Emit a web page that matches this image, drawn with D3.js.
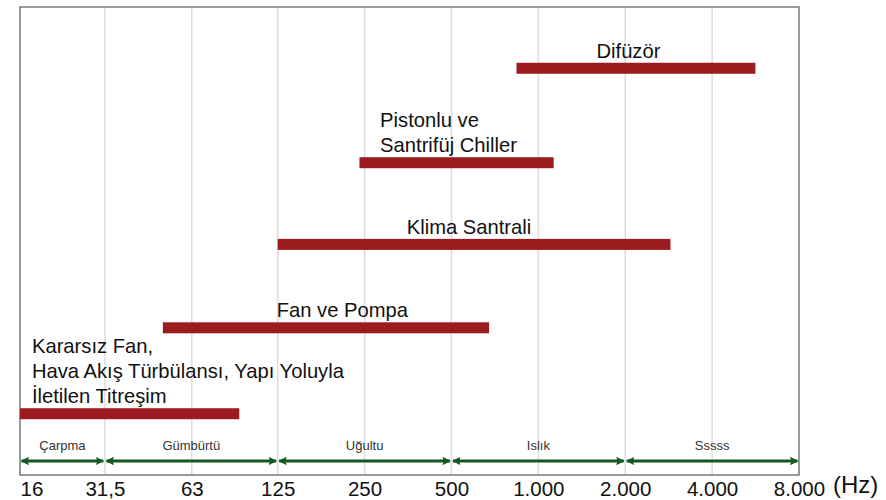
<!DOCTYPE html>
<html>
<head>
<meta charset="utf-8">
<script src="https://cdn.jsdelivr.net/npm/d3@7"></script>
<style>
  html, body { margin: 0; padding: 0; background: #fff; }
  svg { display: block; font-family: "Liberation Sans", Arial, sans-serif; }
</style>
</head>
<body>
<svg id="chart" width="886" height="500"></svg>
<script>
// octave band tick values and their labels
const ticks = [16, 31.5, 63, 125, 250, 500, 1000, 2000, 4000, 8000];
const tickLabels = ["16", "31,5", "63", "125", "250", "500", "1.000", "2.000", "4.000", "8.000"];

// noise sources: frequency range (Hz) and row level
const sources = ["Kararsız Fan", "Fan ve Pompa", "Klima Santrali", "Pistonlu ve Santrifüj Chiller", "Difüzör"];
const lowHz  = [16, 50, 125, 240, 840];
const highHz = [92, 675, 2870, 1130, 5650];
const levels = [0.72, 1.73, 2.71, 3.67, 4.78];

// label text lines and where the text starts (Hz)
const labelLines = [
  ["Kararsız Fan,", "Hava Akış Türbülansı, Yapı Yoluyla", "İletilen Titreşim"],
  ["Fan ve Pompa"],
  ["Klima Santrali"],
  ["Pistonlu ve", "Santrifüj Chiller"],
  ["Difüzör"]
];
const labelHz = [17.6, 124, 350, 283, 1590];

// sound character bands along the bottom
const bandNames = ["Çarpma", "Gümbürtü", "Uğultu", "Islık", "Sssss"];
const bandFrom  = [16, 31.5, 125, 500, 2000];
const bandTo    = [31.5, 125, 500, 2000, 8000];

const svg = d3.select("#chart");
const plotL = 20, plotR = 799, plotT = 7, plotB = 475;

const x = d3.scaleLog().base(2).domain([16, 8000]).range([plotL, plotR]);
const y = d3.scaleLinear().domain([0, 5.5]).range([plotB, plotT]);

// vertical grid
svg.append("g")
  .selectAll("line")
  .data(ticks.slice(1, -1))
  .join("line")
    .attr("x1", d => x(d)).attr("x2", d => x(d))
    .attr("y1", plotT).attr("y2", plotB)
    .attr("stroke", "#dcdcdc")
    .attr("stroke-width", 1.5);

// frame
svg.append("rect")
  .attr("x", plotL).attr("y", plotT)
  .attr("width", plotR - plotL).attr("height", plotB - plotT)
  .attr("fill", "none")
  .attr("stroke", "#7a7a7a")
  .attr("stroke-width", 1.5);

// bottom axis labels
const axis = d3.axisBottom(x)
  .tickValues(ticks)
  .tickFormat((d, i) => tickLabels[i])
  .tickSize(0)
  .tickPadding(0);

const axisG = svg.append("g")
  .attr("transform", `translate(0,${plotB})`)
  .call(axis);
axisG.select(".domain").remove();
axisG.selectAll("text")
  .attr("y", 20.5)
  .attr("dy", 0)
  .attr("font-size", 20.5)
  .attr("font-family", "Liberation Sans, Arial, sans-serif")
  .attr("fill", "#111")
  .filter((d, i) => i === 0)
  .attr("text-anchor", "start");

svg.append("text")
  .attr("x", 833)
  .attr("y", 493)
  .attr("font-size", 24)
  .attr("fill", "#111")
  .text("(Hz)");

// bars
const barH = 11;
svg.append("g")
  .selectAll("rect")
  .data(sources)
  .join("rect")
    .attr("x", (d, i) => x(lowHz[i]))
    .attr("width", (d, i) => x(highHz[i]) - x(lowHz[i]))
    .attr("y", (d, i) => y(levels[i]) - barH / 2)
    .attr("height", barH)
    .attr("fill", "#9b1b1f");

// bar labels
const lineH = 25;
sources.forEach((s, i) => {
  const lines = labelLines[i];
  const base = y(levels[i]) - barH / 2 - 5;
  const t = svg.append("text")
    .attr("font-size", 20.2)
    .attr("fill", "#111");
  lines.forEach((ln, j) => {
    t.append("tspan")
      .attr("x", x(labelHz[i]))
      .attr("y", base - (lines.length - 1 - j) * lineH)
      .text(ln);
  });
});

// green double arrows
const green = "#14581f";
const defs = svg.append("defs");
defs.append("marker")
  .attr("id", "head")
  .attr("viewBox", "0 0 10 10")
  .attr("refX", 9).attr("refY", 5)
  .attr("markerWidth", 2.6).attr("markerHeight", 3.4)
  .attr("markerUnits", "strokeWidth")
  .attr("orient", "auto-start-reverse")
  .append("path")
    .attr("d", "M0,0 L10,5 L0,10 L1.5,5 Z")
    .attr("fill", green);

const arrowY = 461;
svg.append("g")
  .selectAll("line")
  .data(bandNames)
  .join("line")
    .attr("x1", (d, i) => x(bandFrom[i]) + 1.5)
    .attr("x2", (d, i) => x(bandTo[i]) - 1.5)
    .attr("y1", arrowY).attr("y2", arrowY)
    .attr("stroke", green)
    .attr("stroke-width", 3.2)
    .attr("marker-start", "url(#head)")
    .attr("marker-end", "url(#head)");

svg.append("g")
  .selectAll("text")
  .data(bandNames)
  .join("text")
    .attr("x", (d, i) => (x(bandFrom[i]) + x(bandTo[i])) / 2)
    .attr("y", 450)
    .attr("text-anchor", "middle")
    .attr("font-size", 13)
    .attr("fill", "#333")
    .text(d => d);
</script>
</body>
</html>
